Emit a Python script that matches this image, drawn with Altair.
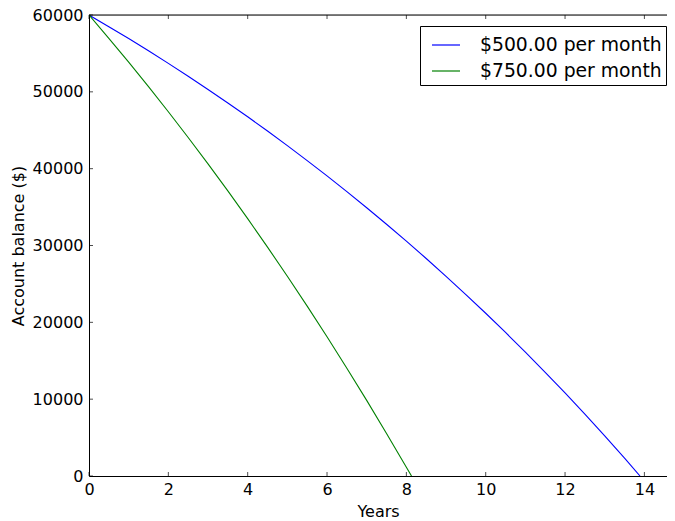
import altair as alt
import pandas as pd

# ---- data ----
years_500 = [0, 0.5, 1, 1.5, 2, 2.5, 3, 3.5, 4, 4.5, 5, 5.5, 6, 6.5, 7, 7.5,
             8, 8.5, 9, 9.5, 10, 10.5, 11, 11.5, 12, 12.5, 13, 13.5, 13.89]
balance_500 = [60000, 58480, 56930, 55340, 53700, 52030, 50310, 48550, 46750,
               44900, 43000, 41050, 39060, 37010, 34920, 32770, 30570, 28310,
               25990, 23610, 21180, 18680, 16120, 13500, 10810, 8050, 5220,
               2320, 0]
years_750 = [0, 0.5, 1, 1.5, 2, 2.5, 3, 3.5, 4, 4.5, 5, 5.5, 6, 6.5, 7, 7.5,
             8, 8.13]
balance_750 = [60000, 56970, 53860, 50670, 47410, 44060, 40620, 37100, 33490,
               29790, 26000, 22110, 18120, 14030, 9840, 5540, 1130, 0]
series_labels = ["$500.00 per month", "$750.00 per month"]
series_colors = ["#0000ff", "#008000"]
x_ticks = [0, 2, 4, 6, 8, 10, 12, 14]
y_ticks = [0, 10000, 20000, 30000, 40000, 50000, 60000]
x_max = 14.57
y_max = 60000

df = pd.concat([
    pd.DataFrame({"year": years_500, "balance": balance_500, "series": series_labels[0]}),
    pd.DataFrame({"year": years_750, "balance": balance_750, "series": series_labels[1]}),
])

W, H = 578, 461
FONT = "DejaVu Sans"

x_scale = alt.Scale(domain=[0, x_max], nice=False, zero=False)
y_scale = alt.Scale(domain=[0, y_max], nice=False)

common_axis = dict(format="d", ticks=False, tickSize=0, domainColor="black",
                   domainWidth=1, grid=False, labelFont=FONT, labelFontSize=16,
                   labelColor="black", titleFont=FONT, titleFontSize=16,
                   titleFontWeight="normal", titleColor="black", labelFlush=False,
                   labelOverlap=False)
x_axis = alt.Axis(title="Years", values=x_ticks, labelPadding=5, titlePadding=6,
                  **common_axis)
y_axis = alt.Axis(title="Account balance ($)", values=y_ticks, labelPadding=6,
                  titlePadding=6, **common_axis)

lines = alt.Chart(df).mark_line(strokeWidth=1.1, clip=True).encode(
    x=alt.X("year:Q", scale=x_scale, axis=x_axis),
    y=alt.Y("balance:Q", scale=y_scale, axis=y_axis),
    color=alt.Color("series:N",
                    scale=alt.Scale(domain=series_labels, range=series_colors),
                    legend=alt.Legend(title=None, orient="none", legendX=331, legendY=11,
                                      strokeColor="black", fillColor="white",
                                      padding=4, symbolType="stroke", symbolSize=784,
                                      symbolStrokeWidth=1.2, labelFontSize=18.8,
                                      labelFont=FONT, labelColor="black",
                                      labelOffset=19, rowPadding=1, symbolOffset=7,
                                      labelLimit=400, cornerRadius=0)),
)

tick_x = pd.DataFrame({"year": x_ticks})
tick_y = pd.DataFrame({"balance": y_ticks})

x_ticks_bottom = alt.Chart(tick_x).mark_tick(orient="vertical", size=4, thickness=1,
                                              color="black").encode(
    x=alt.X("year:Q", scale=x_scale, axis=x_axis), y=alt.value(H - 2))
x_ticks_top = alt.Chart(tick_x).mark_tick(orient="vertical", size=4, thickness=1,
                                           color="black").encode(
    x=alt.X("year:Q", scale=x_scale, axis=x_axis), y=alt.value(2))
y_ticks_left = alt.Chart(tick_y).mark_tick(orient="horizontal", size=4, thickness=1,
                                            color="black").encode(
    y=alt.Y("balance:Q", scale=y_scale, axis=y_axis), x=alt.value(2))
top_spine = alt.Chart(pd.DataFrame({"a": [0]})).mark_rule(color="black", strokeWidth=1).encode(
    x=alt.value(0), x2=alt.value(W), y=alt.value(0))

chart = alt.layer(lines, x_ticks_bottom, x_ticks_top, y_ticks_left, top_spine).properties(
    width=W, height=H,
    autosize=alt.AutoSizeParams(type="none"),
    padding={"left": 81, "top": 7, "right": 0, "bottom": 44},
).configure_view(stroke=None).configure(background="white")

chart.save("out.html", embed_options={"renderer": "svg", "actions": False})
